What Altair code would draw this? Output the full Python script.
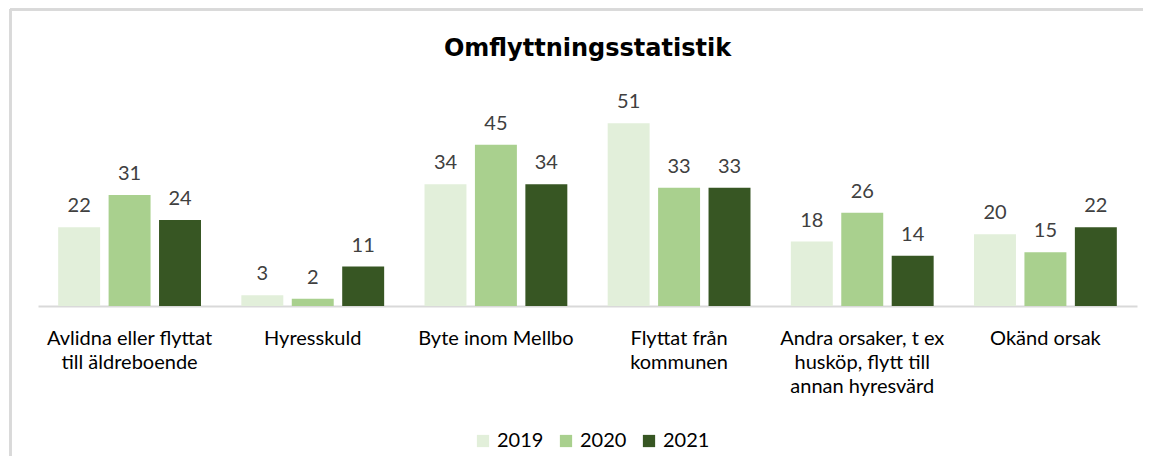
import altair as alt
import pandas as pd

categories = [
    "Avlidna eller flyttat\ntill äldreboende",
    "Hyresskuld",
    "Byte inom Mellbo",
    "Flyttat från\nkommunen",
    "Andra orsaker, t ex\nhusköp, flytt till\nannan hyresvärd",
    "Okänd orsak",
]
years = ["2019", "2020", "2021"]
v2019 = [22, 3, 34, 51, 18, 20]
v2020 = [31, 2, 45, 33, 26, 15]
v2021 = [24, 11, 34, 33, 14, 22]
colors = ["#E2EFDA", "#A9D08E", "#375623"]

rows = []
for i, c in enumerate(categories):
    for y, vals in zip(years, [v2019, v2020, v2021]):
        rows.append({"cat": c, "year": y, "value": vals[i]})
df = pd.DataFrame(rows)

W, H = 1099, 215
x = alt.X("cat:N", sort=categories, title=None,
          scale=alt.Scale(paddingInner=0, paddingOuter=0),
          axis=alt.Axis(labelAngle=0, labelExpr="split(datum.label, '\\n')",
                        labelFont="Lato", labelFontSize=20, labelColor="#000000",
                        labelLineHeight=24, labelPadding=22, ticks=False,
                        domainColor="#d9d9d9", domainWidth=2, labelLimit=300))
xo = alt.XOffset("year:N", sort=years,
                 scale=alt.Scale(paddingInner=0.168, paddingOuter=0.4))
y = alt.Y("value:Q", scale=alt.Scale(domain=[0, 60]), axis=None)

bars = alt.Chart(df).mark_bar().encode(
    x=x, xOffset=xo, y=y,
    color=alt.Color("year:N", sort=years,
                    scale=alt.Scale(domain=years, range=colors),
                    legend=alt.Legend(title=None, orient="none", direction="horizontal",
                                      legendX=435, legendY=340,
                                      symbolType="square", symbolSize=150,
                                      symbolStrokeWidth=0,
                                      labelFont="Lato", labelFontSize=20,
                                      labelColor="#000000", labelOffset=4,
                                      columnPadding=12)),
)
labels = alt.Chart(df).mark_text(dy=-15, baseline="alphabetic", font="Lato",
                                 fontSize=20, color="#404040").encode(
    x=x, xOffset=xo, y=y, text="value:Q")

border_top = alt.Chart(df).mark_rule(color="#d9d9d9", strokeWidth=2).encode(
    x=alt.value(-28), x2=alt.value(W + 10), y=alt.value(-81.5))
border_left = alt.Chart(df).mark_rule(color="#d9d9d9", strokeWidth=2).encode(
    x=alt.value(-27.5), y=alt.value(-82), y2=alt.value(H + 160))

chart = alt.layer(border_top, border_left, bars, labels).properties(
    width=W, height=H,
    padding={"left": 30, "top": 83, "right": 6, "bottom": 150},
    autosize=alt.AutoSizeParams(type="none"),
    title=alt.TitleParams("Omflyttningsstatistik", font="DejaVu Sans", fontSize=24,
                          fontWeight="bold", color="#000000", anchor="middle",
                          frame="group", offset=0, baseline="alphabetic", dy=72),
).configure_view(stroke=None)

chart.save("out.html", embed_options={"renderer": "svg", "actions": False})
